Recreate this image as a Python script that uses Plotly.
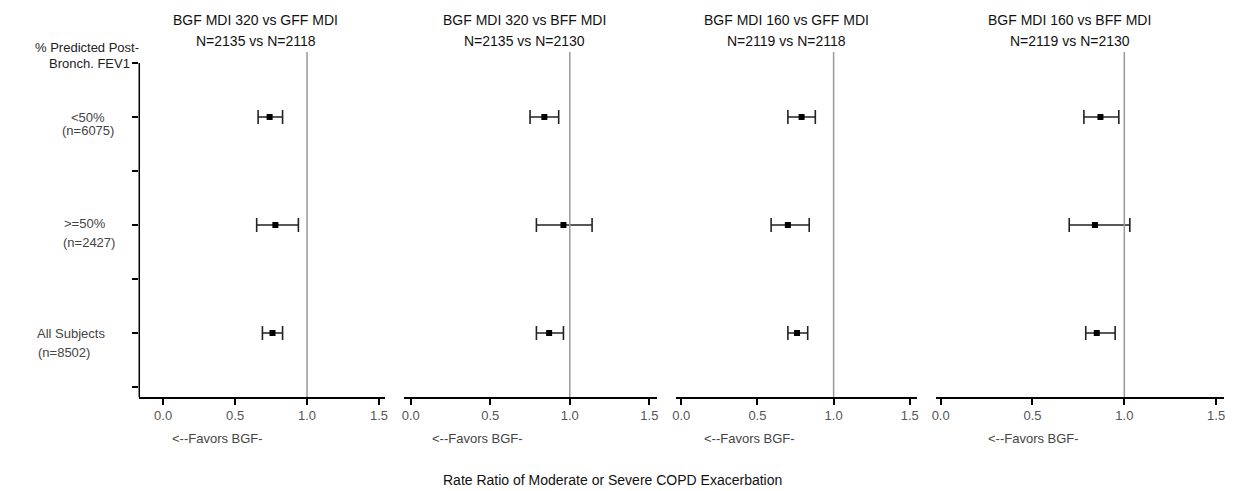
import plotly.graph_objects as go

# page has an 8px body margin: figure is sized so it ends exactly at the window edge
OFF = 8
W, H = 1235 - OFF, 491 - OFF

# ---------------- data ----------------
panel_titles = ["BGF MDI 320 vs GFF MDI", "BGF MDI 320 vs BFF MDI",
                "BGF MDI 160 vs GFF MDI", "BGF MDI 160 vs BFF MDI"]
panel_n = ["N=2135 vs N=2118", "N=2135 vs N=2130",
           "N=2119 vs N=2118", "N=2119 vs N=2130"]
header_lines = ["% Predicted Post-", "Bronch. FEV1"]
subgroups = ["<50%", ">=50%", "All Subjects"]
subgroup_n = ["(n=6075)", "(n=2427)", "(n=8502)"]
subgroup_pos = [5, 3, 1]
y_ticks = [0, 1, 2, 3, 4, 5, 6]

rate_ratio = [[0.74, 0.78, 0.76],
              [0.84, 0.96, 0.87],
              [0.79, 0.70, 0.76],
              [0.87, 0.84, 0.85]]
ci_low = [[0.66, 0.65, 0.69],
          [0.75, 0.79, 0.79],
          [0.70, 0.59, 0.70],
          [0.78, 0.70, 0.79]]
ci_high = [[0.83, 0.94, 0.83],
           [0.93, 1.14, 0.96],
           [0.88, 0.84, 0.83],
           [0.97, 1.03, 0.95]]
x_ticks = [0.0, 0.5, 1.0, 1.5]
ref_value = 1.0
favors_text = "<--Favors BGF-"
x_title = "Rate Ratio of Moderate or Severe COPD Exacerbation"

# ---------------- layout geometry (window pixels) ----------------
dom_px = [(136, 383), (402, 657), (676, 918), (937, 1227)]
x_ranges = [(-0.166, 1.541), (-0.044, 1.55), (-0.033, 1.546), (-0.027, 1.543)]
plot_top, plot_bot = 52, 397
y_range = (-0.185, 6.204)
title_cx = [253, 523, 787, 1072]
favors_cx = [215, 476, 750, 1035]


def px(x):
    return (x - OFF) / W


def py(y):
    return 1 - (y - OFF) / H


FONT = "Liberation Sans, Arial, sans-serif"
fig = go.Figure()
annotations = []
shapes = []
layout = {}

for i in range(4):
    sfx = "" if i == 0 else str(i + 1)
    xa, ya = "x" + sfx, "y" + sfx
    est = rate_ratio[i]
    fig.add_trace(go.Scatter(
        x=est, y=subgroup_pos, xaxis=xa, yaxis=ya, mode="markers",
        marker=dict(symbol="square", size=6, color="black"),
        error_x=dict(type="data", symmetric=False,
                     array=[h - e for h, e in zip(ci_high[i], est)],
                     arrayminus=[e - l for e, l in zip(est, ci_low[i])],
                     color="#222222", thickness=1.6, width=7),
        showlegend=False, hoverinfo="x+y"))

    layout["xaxis" + sfx] = dict(
        domain=[px(dom_px[i][0]), px(dom_px[i][1])], range=list(x_ranges[i]),
        anchor=ya, tickvals=x_ticks, tickformat=".1f", ticks="outside",
        ticklen=6, tickwidth=1.5, tickcolor="black", showline=True,
        linecolor="black", linewidth=1.5, showgrid=False, zeroline=False,
        tickfont=dict(family=FONT, size=13, color="#555555"))
    layout["yaxis" + sfx] = dict(
        domain=[py(plot_bot), py(plot_top)], range=list(y_range), anchor=xa,
        tickvals=y_ticks if i == 0 else [], ticks="outside" if i == 0 else "",
        ticklen=6, tickwidth=1.5, tickcolor="black", showticklabels=False,
        showline=False, showgrid=False, zeroline=False)

    # reference line at 1.0
    shapes.append(dict(type="line", xref=xa, yref=ya + " domain",
                       x0=ref_value, x1=ref_value, y0=0, y1=1,
                       line=dict(color="#999999", width=1.5)))

    # titles
    annotations.append(dict(text=panel_titles[i], xref="paper", yref="paper",
                            x=px(title_cx[i]), y=py(19.5), showarrow=False,
                            xanchor="center", yanchor="middle",
                            font=dict(family=FONT, size=14, color="#111111")))
    annotations.append(dict(text=panel_n[i], xref="paper", yref="paper",
                            x=px(title_cx[i]), y=py(41), showarrow=False,
                            xanchor="center", yanchor="middle",
                            font=dict(family=FONT, size=14, color="#111111")))
    annotations.append(dict(text=favors_text, xref="paper", yref="paper",
                            x=px(favors_cx[i]), y=py(438), showarrow=False,
                            xanchor="center", yanchor="middle",
                            font=dict(family=FONT, size=13, color="#444444")))

# y-axis line of first panel (from header tick down to x-axis)
shapes.append(dict(type="line", xref="x domain", yref="y",
                   x0=0, x1=0, y0=y_ticks[-1], y1=y_range[0],
                   line=dict(color="black", width=1.5)))

# header label
annotations.append(dict(text=header_lines[0], xref="paper", yref="paper",
                        x=px(138), y=py(47), showarrow=False, xanchor="right",
                        yanchor="middle",
                        font=dict(family=FONT, size=13, color="#222222")))
annotations.append(dict(text=header_lines[1], xref="paper", yref="paper",
                        x=px(129), y=py(63), showarrow=False, xanchor="right",
                        yanchor="middle",
                        font=dict(family=FONT, size=13, color="#222222")))

# subgroup labels
label_geom = [  # (anchor, x1, y1, x2, y2)
    ("center", 84, 117, 84, 131),
    ("center", 81, 223, 85, 242),
    ("left", 31, 333, 32, 352),
]
for (anc, x1, y1, x2, y2), g, n in zip(label_geom, subgroups, subgroup_n):
    annotations.append(dict(text=g, xref="paper", yref="paper", x=px(x1),
                            y=py(y1), showarrow=False, xanchor=anc,
                            yanchor="middle",
                            font=dict(family=FONT, size=13, color="#444444")))
    annotations.append(dict(text=n, xref="paper", yref="paper", x=px(x2),
                            y=py(y2), showarrow=False, xanchor=anc,
                            yanchor="middle",
                            font=dict(family=FONT, size=13, color="#444444")))

# overall x title
annotations.append(dict(text=x_title, xref="paper", yref="paper",
                        x=px(612), y=py(480), showarrow=False,
                        xanchor="center", yanchor="middle",
                        font=dict(family=FONT, size=14, color="#111111")))

fig.update_layout(
    width=W, height=H, autosize=False,
    margin=dict(l=0, r=0, t=0, b=0, pad=0),
    paper_bgcolor="white", plot_bgcolor="white",
    annotations=annotations, shapes=shapes, **layout)

fig.write_html("out.html")
